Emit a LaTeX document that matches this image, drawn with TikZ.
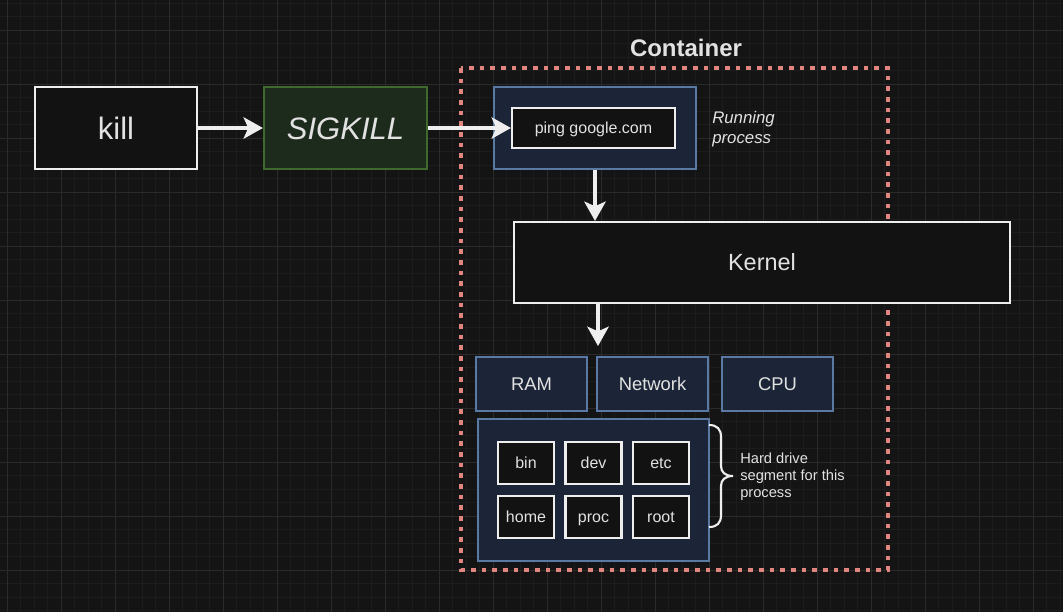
\documentclass[tikz,border=0pt]{standalone}
\usepackage{fontspec}
\setmainfont{Liberation Sans}
\usetikzlibrary{arrows.meta}
\definecolor{bg}{HTML}{141414}
\definecolor{gminor}{HTML}{1C1C1C}
\definecolor{gmajor}{HTML}{2A2A2A}
\definecolor{lineW}{HTML}{EEEEEE}
\definecolor{txt}{HTML}{E2E2E2}
\definecolor{navyF}{HTML}{1C2537}
\definecolor{navyB}{HTML}{5A79A3}
\definecolor{greenF}{HTML}{1D2B1C}
\definecolor{greenB}{HTML}{3E6A2F}
\definecolor{dotC}{HTML}{E08580}
\definecolor{boxF}{HTML}{121212}
\tikzset{
  gridminor/.style={draw=gminor, line width=0.6pt},
  gridmajor/.style={draw=gmajor, line width=0.75pt},
  fs/.style={font=\fontsize{#1}{#1}\selectfont, text height={0.72*#1}, text depth=0pt},
  darkbox/.style={draw=lineW, fill=boxF, line width=1.6pt, inner sep=0pt, text=txt},
  navybox/.style={draw=navyB, fill=navyF, line width=1.6pt, inner sep=0pt, text=txt},
  greenbox/.style={draw=greenB, fill=greenF, line width=1.6pt, inner sep=0pt, text=txt},
  conn/.style={draw=lineW, line width=3pt, -{Stealth[length=14.5pt, width=16pt, inset=3.5pt]}},
  dotbox/.style={draw=dotC, line width=3pt, dash pattern=on 3.5pt off 4.5pt},
  lbl/.style={text=txt, inner sep=0pt, align=left},
}
\begin{document}
\begin{tikzpicture}[x=0.75pt, y=-0.75pt]
\fill[bg] (0,0) rectangle (1063,612);
\useasboundingbox (0,0) rectangle (1063,612);
% grid
\foreach \i in {0,...,78} \draw[gridminor] ({7.3+13.5*\i},0) -- ({7.3+13.5*\i},612);
\foreach \i in {0,...,45} \draw[gridminor] (0,{3+13.5*\i}) -- (1063,{3+13.5*\i});
\foreach \i in {0,...,19} \draw[gridmajor] ({7.3+54*\i},0) -- ({7.3+54*\i},612);
\foreach \i in {0,...,10} \draw[gridmajor] (0,{30+54*\i}) -- (1063,{30+54*\i});
% container
\draw[dotbox] (461,68) rectangle (888,570);
\node[lbl, fs=18, font=\bfseries\fontsize{18}{18}\selectfont] (contlbl) at (686,48) {Container};
% top row
\node[darkbox, minimum width=121.5pt, minimum height=61.5pt, fs=23.25] (kill) at (116,128) {kill};
\node[greenbox, minimum width=122.25pt, minimum height=61.5pt, fs=23.25, font=\itshape\fontsize{23.25}{23.25}\selectfont] (sig) at (345.5,128) {SIGKILL};
\node[navybox, minimum width=151.5pt, minimum height=61.5pt] (run) at (595,128) {};
\node[darkbox, minimum width=122.25pt, minimum height=30pt, fs=12] (ping) at (593.5,128) {ping google.com};
\node[lbl, anchor=west, font=\itshape\fontsize{12.6}{15}\selectfont] (runlbl) at (712,129) {Running\\process};
% kernel
\node[darkbox, minimum width=372pt, minimum height=60.75pt, fs=17.6] (kernel) at (762,262.5) {Kernel};
% resources
\node[navybox, minimum width=83.25pt, minimum height=40.5pt, fs=13.8] (ram) at (531.5,384) {RAM};
\node[navybox, minimum width=83.25pt, minimum height=40.5pt, fs=13.8] (net) at (652.5,384) {Network};
\node[navybox, minimum width=83.25pt, minimum height=40.5pt, fs=13.8] (cpu) at (777.5,384) {CPU};
% hard drive
\node[navybox, minimum width=173.25pt, minimum height=106.5pt] (hd) at (593.5,490) {};
\node[darkbox, minimum width=42pt, minimum height=31.5pt, fs=12] (bin) at (526,463) {bin};
\node[darkbox, minimum width=42pt, minimum height=31.5pt, fs=12] (dev) at (593.5,463) {dev};
\node[darkbox, minimum width=42pt, minimum height=31.5pt, fs=12] (etc) at (661,463) {etc};
\node[darkbox, minimum width=42pt, minimum height=31.5pt, fs=12] (home) at (526,517) {home};
\node[darkbox, minimum width=42pt, minimum height=31.5pt, fs=12] (proc) at (593.5,517) {proc};
\node[darkbox, minimum width=42pt, minimum height=31.5pt, fs=12] (root) at (661,517) {root};
% brace
\draw[lineW, line width=1.6pt] (709,425) .. controls (717,425) and (721,429) .. (721,437) -- (721,466)
  .. controls (721,472) and (725,476) .. (733,476) .. controls (725,476) and (721,480) .. (721,486)
  -- (721,515) .. controls (721,523) and (717,527) .. (709,527);
\node[lbl, anchor=west, font=\fontsize{11}{12.75}\selectfont] (hdlbl) at (740,477) {Hard drive\\segment for this\\process};
% connectors
\coordinate (kend) at (598,346);
\draw[conn] (kill.east) -- (sig.west);
\draw[conn] (sig.east) -- (ping.west);
\draw[conn] (run.south) -- (run.south |- kernel.north);
\draw[conn] (kend |- kernel.south) -- (kend);
\end{tikzpicture}
\end{document}
